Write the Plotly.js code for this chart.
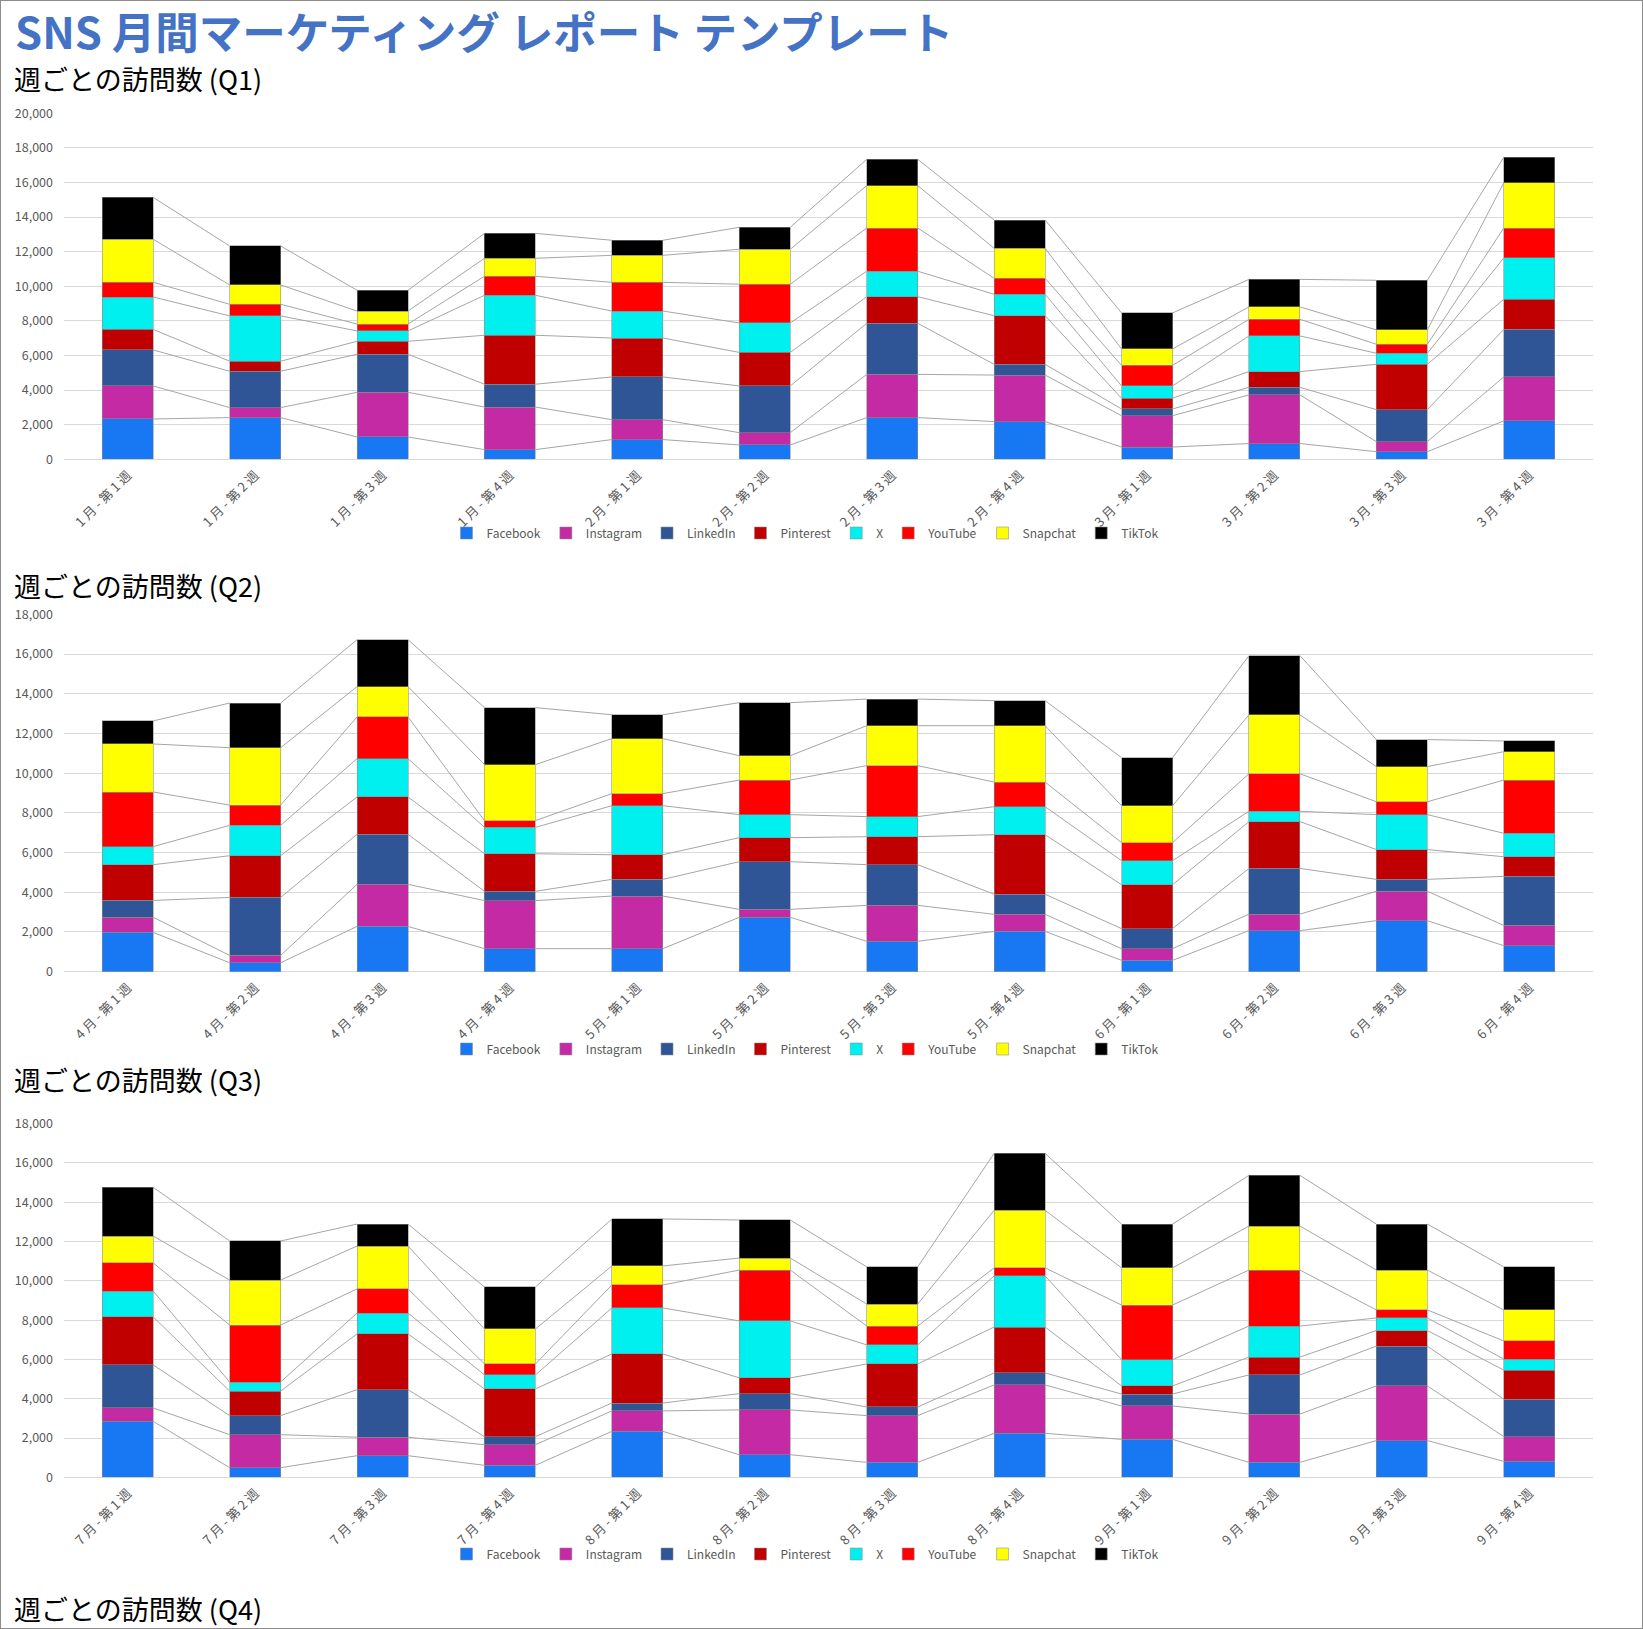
<!DOCTYPE html>
<html>
<head>
<meta charset="utf-8">
<script src="https://cdn.plot.ly/plotly-3.0.1.min.js"></script>
<style>
html,body{margin:0;padding:0;background:#fff;}
#chart{position:absolute;left:0;top:0;width:1643px;height:1629px;}
#frame{position:absolute;left:0;top:0;width:1643px;height:1629px;box-sizing:border-box;border:1px solid #8c8c8c;pointer-events:none;}
</style>
</head>
<body>
<div id="chart"></div>
<div id="frame"></div>
<script>
// ---- data ----
const seriesNames = ['Facebook','Instagram','LinkedIn','Pinterest','X','YouTube','Snapchat','TikTok'];

const weeksQ1 = ['1 月 - 第 1 週','1 月 - 第 2 週','1 月 - 第 3 週','1 月 - 第 4 週','2 月 - 第 1 週','2 月 - 第 2 週','2 月 - 第 3 週','2 月 - 第 4 週','3 月 - 第 1 週','3 月 - 第 2 週','3 月 - 第 3 週','3 月 - 第 4 週'];
const weeksQ2 = ['4 月 - 第 1 週','4 月 - 第 2 週','4 月 - 第 3 週','4 月 - 第 4 週','5 月 - 第 1 週','5 月 - 第 2 週','5 月 - 第 3 週','5 月 - 第 4 週','6 月 - 第 1 週','6 月 - 第 2 週','6 月 - 第 3 週','6 月 - 第 4 週'];
const weeksQ3 = ['7 月 - 第 1 週','7 月 - 第 2 週','7 月 - 第 3 週','7 月 - 第 4 週','8 月 - 第 1 週','8 月 - 第 2 週','8 月 - 第 3 週','8 月 - 第 4 週','9 月 - 第 1 週','9 月 - 第 2 週','9 月 - 第 3 週','9 月 - 第 4 週'];

// Q1
const facebookQ1  = [2330, 2410, 1290, 560, 1140, 830, 2410, 2180, 710, 910, 440, 2220];
const instagramQ1 = [1910, 580, 2580, 2460, 1150, 710, 2500, 2690, 1810, 2810, 580, 2540];
const linkedinQ1  = [2080, 2100, 2200, 1320, 2470, 2700, 2950, 620, 390, 440, 1850, 2750];
const pinterestQ1 = [1190, 580, 750, 2830, 2250, 1940, 1540, 2810, 620, 910, 2620, 1740];
const xQ1         = [1870, 2620, 600, 2310, 1560, 1700, 1470, 1240, 710, 2060, 640, 2390];
const youtubeQ1   = [850, 670, 400, 1100, 1660, 2240, 2500, 920, 1190, 960, 520, 1730];
const snapchatQ1  = [2490, 1120, 750, 1040, 1560, 2020, 2450, 1740, 950, 720, 830, 2620];
const tiktokQ1    = [2420, 2250, 1200, 1440, 870, 1270, 1520, 1630, 2080, 1590, 2870, 1470];

// Q2
const facebookQ2  = [1980, 450, 2280, 1160, 1160, 2740, 1530, 2030, 570, 2070, 2570, 1310];
const instagramQ2 = [760, 370, 2120, 2420, 2650, 400, 1810, 860, 590, 830, 1480, 1020];
const linkedinQ2  = [850, 2920, 2520, 470, 840, 2400, 2050, 1010, 1010, 2300, 600, 2470];
const pinterestQ2 = [1800, 2100, 1880, 1890, 1240, 1210, 1410, 3000, 2210, 2360, 1500, 990];
const xQ2         = [910, 1530, 1930, 1330, 2470, 1160, 1010, 1410, 1210, 520, 1760, 1180];
const youtubeQ2   = [2750, 1020, 2100, 340, 610, 1740, 2570, 1240, 910, 1890, 650, 2680];
const snapchatQ2  = [2420, 2890, 1530, 2820, 2770, 1230, 2010, 2840, 1860, 2970, 1770, 1430];
const tiktokQ2    = [1160, 2250, 2360, 2870, 1200, 2670, 1340, 1260, 2420, 2980, 1360, 540];

// Q3
const facebookQ3  = [2850, 490, 1100, 610, 2340, 1150, 760, 2240, 1930, 760, 1870, 810];
const instagramQ3 = [680, 1680, 940, 1050, 1040, 2280, 2380, 2460, 1700, 2460, 2780, 1260];
const linkedinQ3  = [2190, 970, 2420, 410, 400, 830, 440, 610, 610, 1990, 2030, 1900];
const pinterestQ3 = [2440, 1250, 2840, 2430, 2500, 800, 2190, 2340, 410, 910, 790, 1490];
const xQ3         = [1320, 460, 1060, 710, 2340, 2900, 970, 2600, 1340, 1580, 640, 560];
const youtubeQ3   = [1430, 2900, 1230, 560, 1170, 2590, 960, 410, 2780, 2850, 410, 920];
const snapchatQ3  = [1370, 2290, 2180, 1780, 970, 610, 1120, 2930, 1890, 2240, 2030, 1580];
const tiktokQ3    = [2480, 1990, 1120, 2140, 2390, 1940, 1890, 2900, 2230, 2580, 2340, 2190];

// ---- styles ----
const seriesColors = ['#1877F2','#C32AA3','#2F5597','#C00000','#00F0F0','#FF0000','#FFFF00','#000000'];
const FONT = "'Noto Sans CJK JP', 'Noto Sans', sans-serif";
const W = 1643, H = 1629;
const barWidth = 0.4;

const quarters = [
  {labels: weeksQ1, data: [facebookQ1, instagramQ1, linkedinQ1, pinterestQ1, xQ1, youtubeQ1, snapchatQ1, tiktokQ1], yMax: 20000, top: 113.3, bottom: 459.3, legendY: 533, subtitle: '週ごとの訪問数 (Q1)', subY: 79},
  {labels: weeksQ2, data: [facebookQ2, instagramQ2, linkedinQ2, pinterestQ2, xQ2, youtubeQ2, snapchatQ2, tiktokQ2], yMax: 18000, top: 614.3, bottom: 971.7, legendY: 1049, subtitle: '週ごとの訪問数 (Q2)', subY: 585},
  {labels: weeksQ3, data: [facebookQ3, instagramQ3, linkedinQ3, pinterestQ3, xQ3, youtubeQ3, snapchatQ3, tiktokQ3], yMax: 18000, top: 1123.7, bottom: 1477.3, legendY: 1554, subtitle: '週ごとの訪問数 (Q3)', subY: 1079}
];

const traces = [];
const layout = {
  width: W, height: H,
  margin: {l:0, r:0, t:0, b:0},
  paper_bgcolor: '#ffffff',
  plot_bgcolor: '#ffffff',
  barmode: 'stack',
  showlegend: true,
  font: {family: FONT, color: '#595959'},
  annotations: [],
  shapes: []
};

const xDomain = [64/W, 1593/W];

quarters.forEach((q, qi) => {
  const suf = qi === 0 ? '' : String(qi + 1);
  const idx = q.labels.map((_, i) => i);
  const legendName = 'legend' + suf;

  // stacked bars
  q.data.forEach((vals, s) => {
    traces.push({
      type: 'bar',
      name: seriesNames[s],
      x: idx,
      y: vals,
      width: barWidth,
      xaxis: 'x' + suf,
      yaxis: 'y' + suf,
      legend: legendName,
      marker: {color: seriesColors[s], line: {color: 'rgba(140,140,140,0.7)', width: 0.8}},
      hoverinfo: 'skip'
    });
  });

  // series lines connecting segment tops
  const cum = idx.map(() => 0);
  const lx = [], ly = [];
  q.data.forEach((vals) => {
    vals.forEach((v, i) => { cum[i] += v; });
    for (let i = 0; i < idx.length - 1; i++) {
      lx.push(idx[i] + barWidth/2, idx[i+1] - barWidth/2, null);
      ly.push(cum[i], cum[i+1], null);
    }
  });
  traces.push({
    type: 'scatter', mode: 'lines',
    x: lx, y: ly,
    xaxis: 'x' + suf, yaxis: 'y' + suf,
    line: {color: '#A6A6A6', width: 1},
    connectgaps: false,
    showlegend: false,
    hoverinfo: 'skip'
  });

  layout['xaxis' + suf] = {
    domain: xDomain,
    anchor: 'y' + suf,
    range: [-0.5, idx.length - 0.5],
    tickmode: 'array',
    tickvals: idx,
    ticktext: q.labels,
    tickangle: -45,
    tickfont: {family: FONT, size: 13, color: '#595959'},
    showgrid: false, zeroline: false, showline: false, ticks: '',
    ticklabelstandoff: 5,
    fixedrange: true
  };
  layout['yaxis' + suf] = {
    domain: [1 - q.bottom/H, 1 - q.top/H],
    anchor: 'x' + suf,
    range: [0, q.yMax],
    dtick: 2000,
    tickformat: ',d',
    tickfont: {family: FONT, size: 12.5, color: '#595959'},
    gridcolor: '#D9D9D9', gridwidth: 1,
    zeroline: true, zerolinecolor: '#D9D9D9', zerolinewidth: 1,
    showline: false, ticks: '',
    ticklabelstandoff: 10,
    fixedrange: true
  };
  layout[legendName] = {
    orientation: 'h',
    x: 805/W, xanchor: 'center',
    y: 1 - q.legendY/H, yanchor: 'middle',
    font: {family: FONT, size: 12, color: '#595959'},
    itemwidth: 30,
    bgcolor: 'rgba(0,0,0,0)',
    traceorder: 'normal'
  };
  layout.annotations.push({
    xref: 'paper', yref: 'paper',
    x: 13/W, y: 1 - q.subY/H,
    xanchor: 'left', yanchor: 'middle',
    text: q.subtitle, showarrow: false, borderpad: 0,
    font: {family: FONT, size: 27, color: '#000000'}
  });
});

// main title
layout.annotations.push({
  xref: 'paper', yref: 'paper',
  x: 14/W, y: 1 - 31/H,
  xanchor: 'left', yanchor: 'middle',
  text: '<b>SNS 月間マーケティング レポート テンプレート</b>', showarrow: false, borderpad: 0,
  font: {family: FONT, size: 43.5, color: '#4472C4'}
});
// partially visible Q4 section title
layout.annotations.push({
  xref: 'paper', yref: 'paper',
  x: 13/W, y: 1 - 1608/H,
  xanchor: 'left', yanchor: 'middle',
  text: '週ごとの訪問数 (Q4)', showarrow: false, borderpad: 0,
  font: {family: FONT, size: 27, color: '#000000'}
});

Plotly.newPlot('chart', traces, layout, {staticPlot: true, displayModeBar: false});
</script>
</body>
</html>
